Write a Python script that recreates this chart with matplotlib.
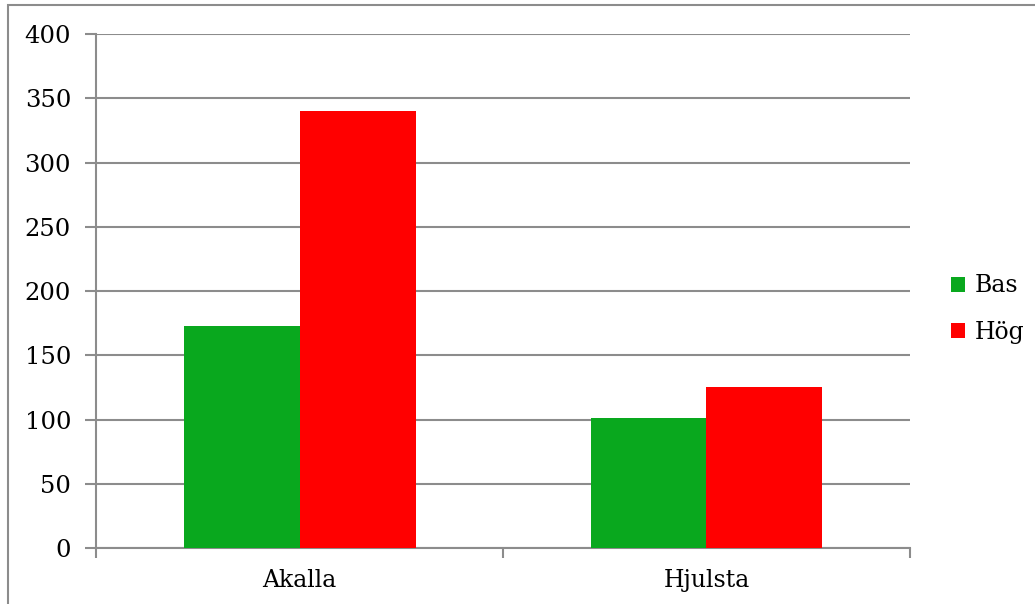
import matplotlib.pyplot as plt
import numpy as np
from matplotlib.patches import Rectangle

omraden = ["Akalla", "Hjulsta"]
serier = ["Bas", "Hög"]
bas = [173, 101]
hog = [340, 125]
yticks = [0, 50, 100, 150, 200, 250, 300, 350, 400]

GRON = "#09A81E"
ROD = "#FF0000"
GRA = "#8C8C8C"

plt.rcParams["font.family"] = ["DejaVu Serif"]

fig = plt.figure(figsize=(10.35, 6.04), dpi=100)
ax = fig.add_axes([0.0928, 0.0927, 0.7864, 0.851])

# ram runt hela diagrammet
fig.patches.append(Rectangle((8 / 1035, -0.1), 1.2, 1.1 - 5 / 604, transform=fig.transFigure,
                             fill=False, edgecolor=GRA, lw=1.5))

x = np.arange(len(omraden))
w = 0.285
ax.bar(x - w / 2, bas, w, color=GRON, label=serier[0], zorder=3)
ax.bar(x + w / 2, hog, w, color=ROD, label=serier[1], zorder=3)

ax.set_xlim(-0.5, 1.5)
ax.set_ylim(0, 400)
ax.set_yticks(yticks)
ax.set_yticklabels([str(v) for v in yticks], fontsize=17.5)
ax.yaxis.grid(True, color=GRA, lw=1.5, zorder=0)
ax.set_xticks(x)
ax.set_xticklabels(omraden, fontsize=17)
ax.set_xticks([-0.5, 0.5, 1.5], minor=True)
ax.tick_params(axis="x", which="major", length=0, pad=15)
ax.tick_params(axis="x", which="minor", length=7, color=GRA, width=1.5)
ax.tick_params(axis="y", length=8, color=GRA, width=1.5, pad=10)
for s in ["top", "right"]:
    ax.spines[s].set_visible(False)
for s in ["left", "bottom"]:
    ax.spines[s].set_color(GRA)
    ax.spines[s].set_linewidth(1.5)

fig.legend(loc="center left", bbox_to_anchor=(0.898, 0.488), frameon=False, fontsize=17,
           handlelength=0.6, handleheight=0.6, handletextpad=0.4, labelspacing=1.0)

fig.savefig("out.png", dpi=100)
